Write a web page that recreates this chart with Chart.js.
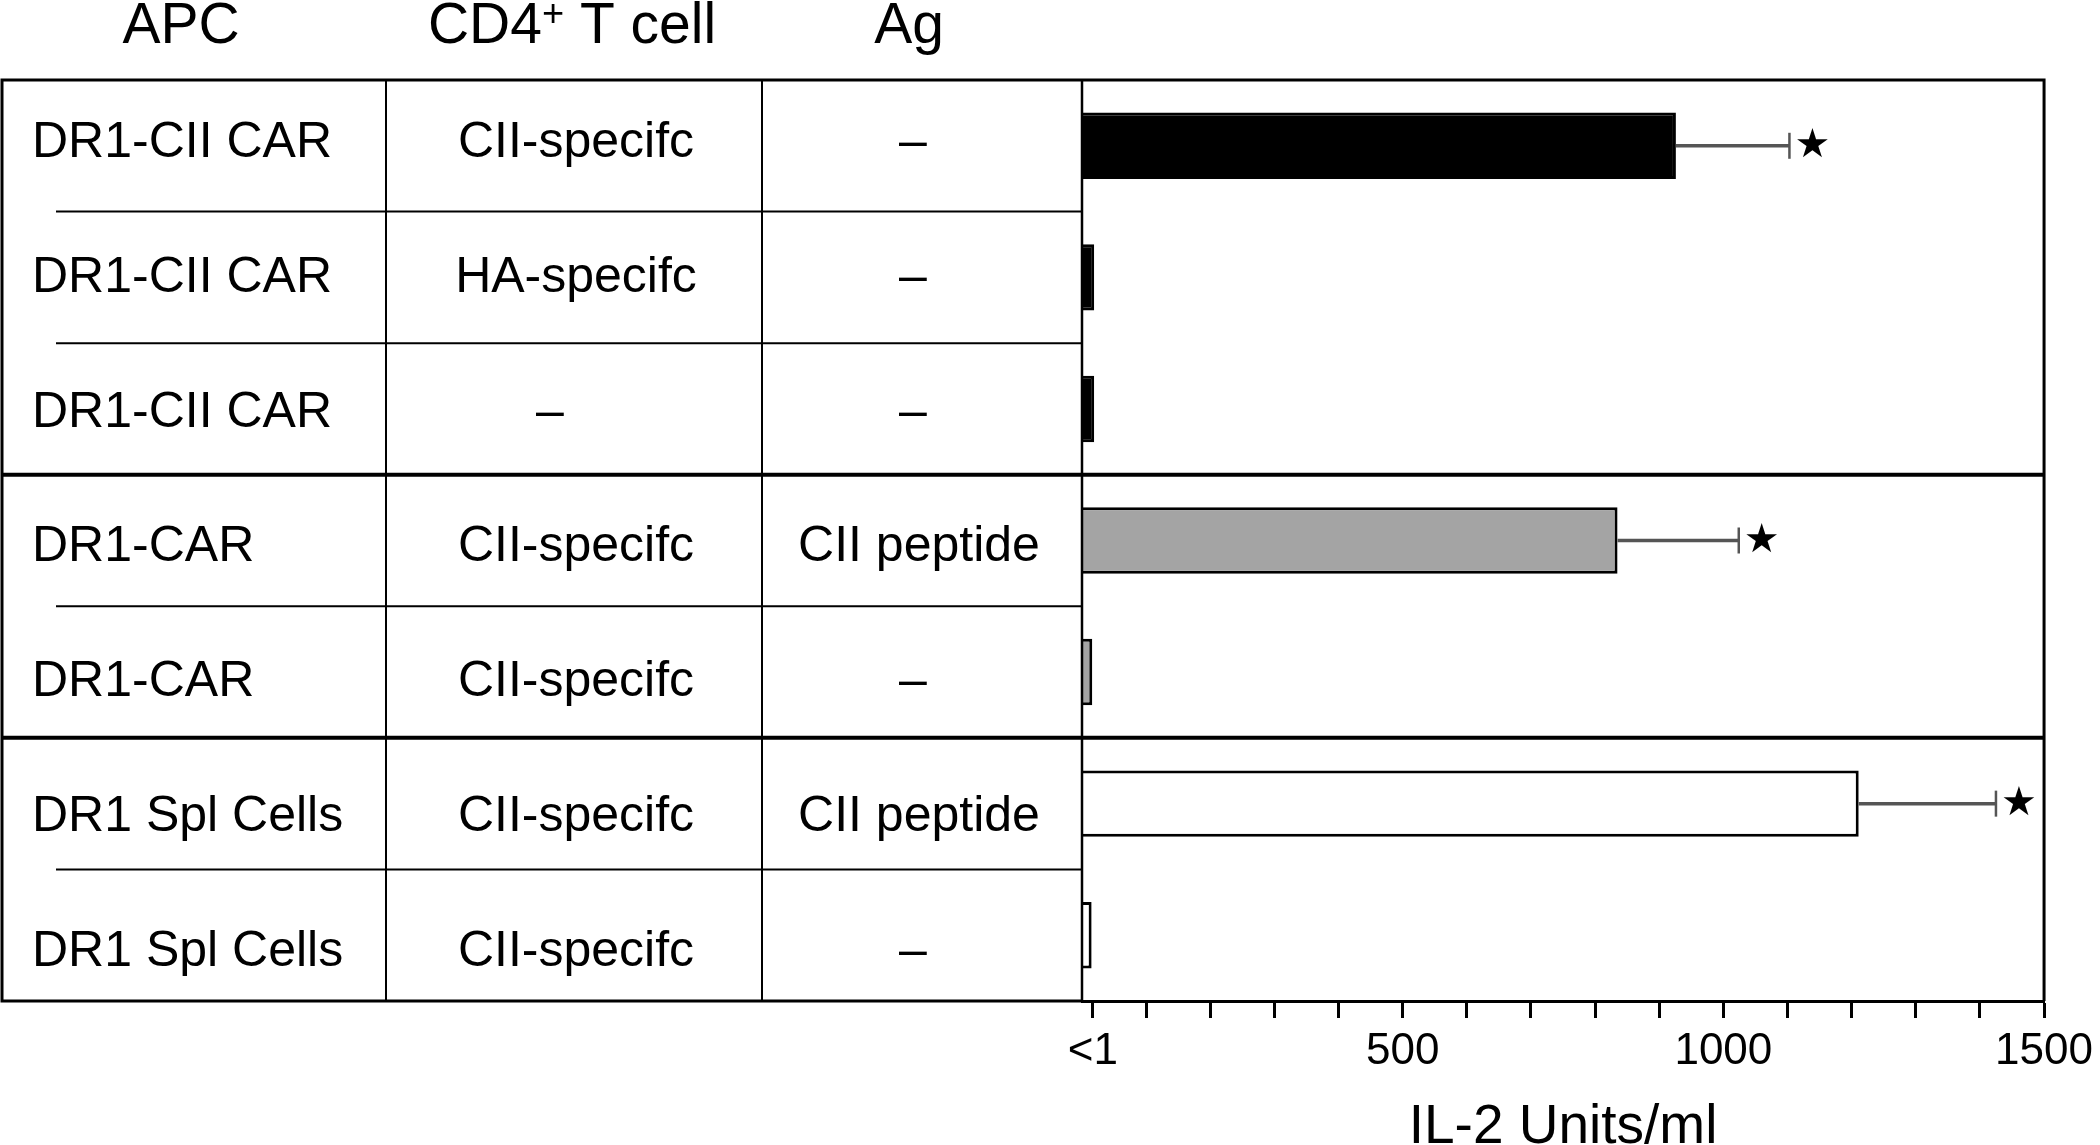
<!DOCTYPE html>
<html>
<head>
<meta charset="utf-8">
<script src="https://cdn.jsdelivr.net/npm/chart.js@4.4.1/dist/chart.umd.min.js"></script>
<style>
  html, body { margin: 0; padding: 0; background: #fff; }
  #wrap { width: 2100px; height: 1145px; }
</style>
</head>
<body>
<div id="wrap"><canvas id="il2Chart" width="2100" height="1145"></canvas></div>
<script>
// table columns, one entry per row (top to bottom)
const apcCells = ['DR1-CII CAR', 'DR1-CII CAR', 'DR1-CII CAR', 'DR1-CAR', 'DR1-CAR', 'DR1 Spl Cells', 'DR1 Spl Cells'];
const tCells = ['CII-specifc', 'HA-specifc', '–', 'CII-specifc', 'CII-specifc', 'CII-specifc', 'CII-specifc'];
const antigens = ['–', '–', '–', 'CII peptide', '–', 'CII peptide', '–'];

// IL-2 response (Units/ml) and upper end of the error bar
const il2Units = [926, 19, 19, 835, 16, 1211, 15];
const il2Upper = [1103, null, null, 1024, null, 1425, null];
const significant = [true, false, false, true, false, true, false];
const barColors = ['#000000', '#000000', '#000000', '#a4a4a4', '#a4a4a4', '#ffffff', '#ffffff'];

// rows after which a thick group line is drawn
const groupBreaks = [3, 5];

const xTickValues = [17, 100, 200, 300, 400, 500, 600, 700, 800, 900, 1000, 1100, 1200, 1300, 1400, 1500];
const xTickLabels = ['<1', '', '', '', '', '500', '', '', '', '', '1000', '', '', '', '', '1500'];

const FONT = '"Liberation Sans", Arial, Helvetica, sans-serif';

const tablePlugin = {
  id: 'tablePlugin',
  afterDatasetsDraw(chart) {
    const {ctx, chartArea: a, scales: {x, y}} = chart;
    const n = apcCells.length;
    const rowH = (a.bottom - a.top) / n;
    const tableLeft = 2;
    const colLines = [386, 762];

    ctx.save();
    ctx.strokeStyle = '#000';
    ctx.lineCap = 'butt';

    // error bars + stars
    il2Upper.forEach((hi, i) => {
      if (hi == null) return;
      const yc = y.getPixelForValue(i);
      const x0 = x.getPixelForValue(il2Units[i]);
      const x1 = x.getPixelForValue(hi);
      ctx.strokeStyle = '#555';
      ctx.lineWidth = 3.5;
      ctx.beginPath();
      ctx.moveTo(x0, yc);
      ctx.lineTo(x1, yc);
      ctx.stroke();
      ctx.lineWidth = 2.5;
      ctx.beginPath();
      ctx.moveTo(x1, yc - 13);
      ctx.lineTo(x1, yc + 13);
      ctx.stroke();
      if (significant[i]) {
        ctx.fillStyle = '#000';
        ctx.font = '40px "DejaVu Sans"';
        ctx.textAlign = 'left';
        ctx.textBaseline = 'middle';
        ctx.fillText('★', x1 + 5, yc + 1);
      }
    });

    ctx.strokeStyle = '#000';
    // row separators
    for (let r = 1; r < n; r++) {
      const yy = a.top + r * rowH;
      ctx.beginPath();
      if (groupBreaks.includes(r)) {
        ctx.lineWidth = 4;
        ctx.moveTo(tableLeft, yy);
        ctx.lineTo(a.right, yy);
      } else {
        ctx.lineWidth = 2;
        ctx.moveTo(56, yy);
        ctx.lineTo(a.left, yy);
      }
      ctx.stroke();
    }

    // column lines
    ctx.lineWidth = 2;
    colLines.forEach(cx => {
      ctx.beginPath();
      ctx.moveTo(cx, a.top);
      ctx.lineTo(cx, a.bottom);
      ctx.stroke();
    });

    // outer frame
    ctx.lineWidth = 3;
    ctx.beginPath();
    ctx.moveTo(tableLeft - 1.5, a.top);
    ctx.lineTo(a.right + 1.5, a.top);
    ctx.moveTo(tableLeft - 1.5, a.bottom);
    ctx.lineTo(a.left, a.bottom);
    ctx.moveTo(tableLeft, a.top);
    ctx.lineTo(tableLeft, a.bottom);
    ctx.moveTo(a.right, a.top);
    ctx.lineTo(a.right, a.bottom);
    ctx.stroke();
    ctx.lineWidth = 2.5;
    ctx.beginPath();
    ctx.moveTo(a.left, a.top);
    ctx.lineTo(a.left, a.bottom);
    ctx.stroke();

    // cell text
    ctx.fillStyle = '#000';
    ctx.textBaseline = 'alphabetic';
    ctx.font = '50px ' + FONT;
    for (let i = 0; i < n; i++) {
      // text in the original drifts a little lower than the row centres
      const base = y.getPixelForValue(i) - 7 + 3.3 * i + 18;
      ctx.textAlign = 'left';
      ctx.fillText(apcCells[i], 32, base);
      ctx.textAlign = 'center';
      // the lone dash in the T-cell column sits left of centre in the original
      ctx.fillText(tCells[i], tCells[i] === '–' ? 550 : 576, base);
      ctx.fillText(antigens[i], antigens[i] === '–' ? 913 : 919, base);
    }

    // column headers
    ctx.font = '57px ' + FONT;
    ctx.textAlign = 'center';
    ctx.fillText('APC', 181, 43);
    ctx.fillText('Ag', 909, 43);
    // CD4+ T cell with superscript plus
    const p1 = 'CD4', p2 = '+', p3 = ' T cell';
    const w1 = ctx.measureText(p1).width;
    const w3 = ctx.measureText(p3).width;
    ctx.font = '38px ' + FONT;
    const w2 = ctx.measureText(p2).width;
    let hx = 572 - (w1 + w2 + w3) / 2;
    ctx.textAlign = 'left';
    ctx.font = '57px ' + FONT;
    ctx.fillText(p1, hx, 43);
    ctx.font = '38px ' + FONT;
    ctx.fillText(p2, hx + w1, 26);
    ctx.font = '57px ' + FONT;
    ctx.fillText(p3, hx + w1 + w2, 43);

    ctx.restore();
  }
};

const chart = new Chart(document.getElementById('il2Chart'), {
  type: 'bar',
  data: {
    labels: apcCells,
    datasets: [{
      data: il2Units,
      backgroundColor: barColors,
      borderColor: '#000',
      borderWidth: 3,
      borderSkipped: 'start',
      barPercentage: 0.505,
      categoryPercentage: 1
    }]
  },
  options: {
    indexAxis: 'y',
    responsive: false,
    animation: false,
    devicePixelRatio: 1,
    layout: { padding: { left: 1082, top: 80, right: 53, bottom: 0 } },
    plugins: { legend: { display: false }, tooltip: { enabled: false } },
    scales: {
      y: { type: 'category', display: false, offset: true },
      x: {
        type: 'linear',
        min: 0,
        max: 1500,
        afterBuildTicks: s => { s.ticks = xTickValues.map(v => ({ value: v })); },
        afterFit: s => { s.height = 144; },
        grid: { display: true, drawOnChartArea: false, drawTicks: true, tickLength: 17, tickWidth: 3, tickColor: '#000' },
        border: { display: true, color: '#000', width: 3 },
        ticks: {
          autoSkip: false,
          maxRotation: 0,
          padding: 7,
          color: '#000',
          font: { family: FONT, size: 44 },
          callback: (v, i) => xTickLabels[i]
        },
        title: {
          display: true,
          text: 'IL-2 Units/ml',
          color: '#000',
          font: { family: FONT, size: 55, lineHeight: 1 },
          padding: { top: 0, bottom: -10 }
        }
      }
    }
  },
  plugins: [tablePlugin]
});
</script>
</body>
</html>
